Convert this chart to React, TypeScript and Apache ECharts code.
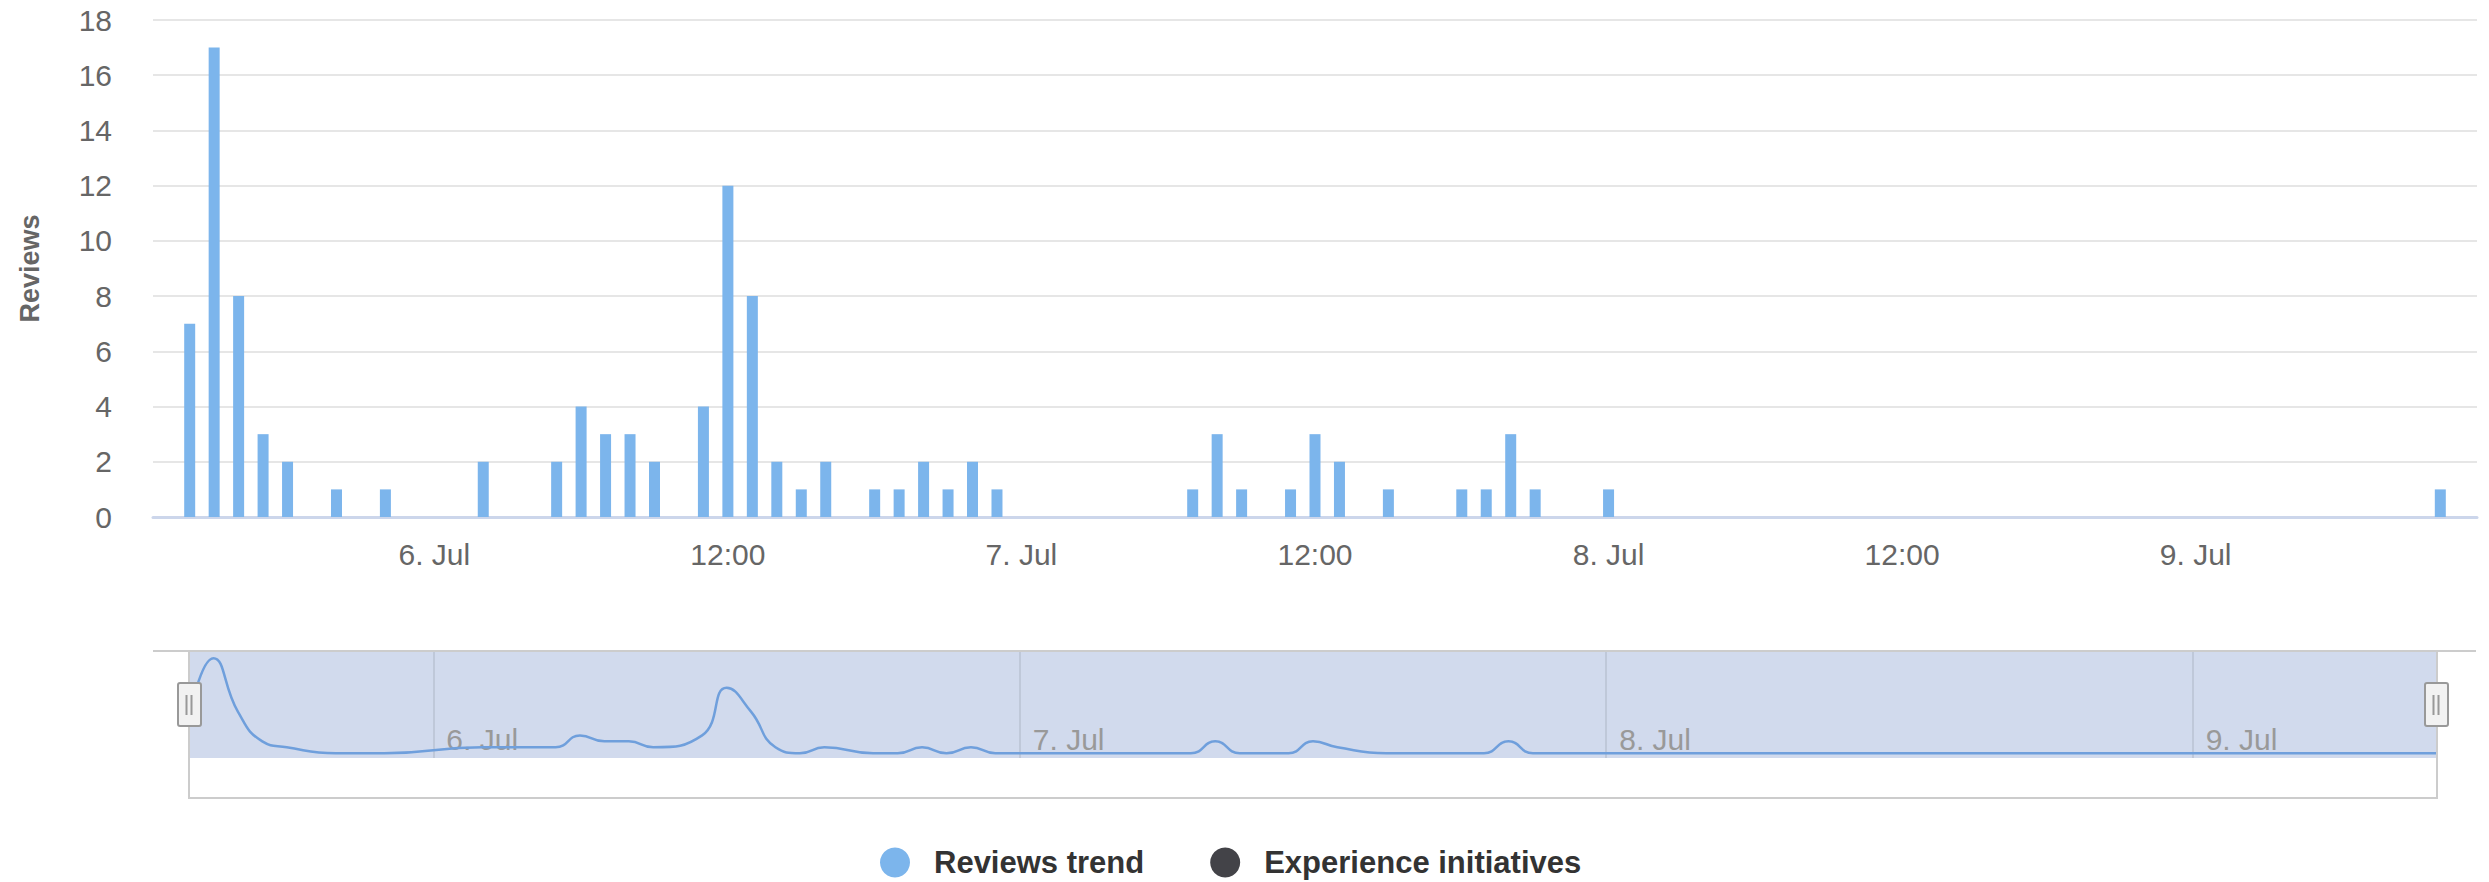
import React, { useEffect, useRef } from "react";
import * as echarts from "echarts";

// Hourly slots (July) that received reviews, and their counts
const reviewSlots = [
  "5. Jul 14:00", "5. Jul 15:00", "5. Jul 16:00", "5. Jul 17:00", "5. Jul 18:00", "5. Jul 20:00", "5. Jul 22:00",
  "6. Jul 02:00", "6. Jul 05:00", "6. Jul 06:00", "6. Jul 07:00", "6. Jul 08:00", "6. Jul 09:00", "6. Jul 11:00",
  "6. Jul 12:00", "6. Jul 13:00", "6. Jul 14:00", "6. Jul 15:00", "6. Jul 16:00", "6. Jul 18:00", "6. Jul 19:00",
  "6. Jul 20:00", "6. Jul 21:00", "6. Jul 22:00", "6. Jul 23:00",
  "7. Jul 07:00", "7. Jul 08:00", "7. Jul 09:00", "7. Jul 11:00", "7. Jul 12:00", "7. Jul 13:00", "7. Jul 15:00",
  "7. Jul 18:00", "7. Jul 19:00", "7. Jul 20:00", "7. Jul 21:00",
  "8. Jul 00:00",
  "9. Jul 10:00",
];
const reviewCounts = [
  7, 17, 8, 3, 2, 1, 1,
  2, 2, 4, 3, 3, 2, 4,
  12, 8, 2, 1, 2, 1, 1,
  2, 1, 2, 1,
  1, 3, 1, 1, 3, 2, 1,
  1, 1, 3, 1,
  1,
  1,
];

// Axis ranges (day of July, hour)
const mainRange = [5, 13, 9, 11];
const navRange = [5, 14, 9, 10];
const yTicks = [0, 18, 2];

const legendNames = ["Reviews trend", "Experience initiatives"];
const FONT = '"Liberation Sans", Arial, sans-serif';

function slotName(day: number, hour: number) {
  return `${day}. Jul ${String(hour).padStart(2, "0")}:00`;
}
function hourSlots(r: number[]) {
  const out: string[] = [];
  let d = r[0];
  let h = r[1];
  while (d < r[2] || (d === r[2] && h <= r[3])) {
    out.push(slotName(d, h));
    h++;
    if (h === 24) {
      h = 0;
      d++;
    }
  }
  return out;
}
const isHalfDay = (_i: number, v: string) => v.endsWith(" 00:00") || v.endsWith(" 12:00");
const isDay = (_i: number, v: string) => v.endsWith(" 00:00");
const fmt = (v: string) => (v.endsWith(" 00:00") ? v.slice(0, v.indexOf(" Jul") + 4) : v.slice(v.lastIndexOf(" ") + 1));

export default function App() {
  const ref = useRef<HTMLDivElement>(null);
  useEffect(() => {
    if (!ref.current) return;
    const chart = echarts.init(ref.current, undefined, { renderer: "svg" });
    const pairs = reviewSlots.map((s, i) => [s, reviewCounts[i]]);
    const handle = (cx: number) => [
      {
        type: "rect",
        z: 20,
        shape: { x: cx - 11.5, y: 683, width: 23, height: 43, r: 2 },
        style: { fill: "#f2f2f2", stroke: "#999999", lineWidth: 2 },
      },
      {
        type: "line",
        z: 21,
        shape: { x1: cx - 3, y1: 695, x2: cx - 3, y2: 715 },
        style: { stroke: "#999999", lineWidth: 2 },
      },
      {
        type: "line",
        z: 21,
        shape: { x1: cx + 2, y1: 695, x2: cx + 2, y2: 715 },
        style: { stroke: "#999999", lineWidth: 2 },
      },
    ];
    chart.setOption({
      animation: false,
      textStyle: { fontFamily: FONT },
      legend: {
        data: legendNames.map((n) => ({ name: n, icon: "circle" })),
        left: 875,
        top: 842,
        itemWidth: 30,
        itemHeight: 30,
        itemGap: 66,
        selectedMode: false,
        textStyle: { color: "#333333", fontSize: 31, fontWeight: "bold", fontFamily: FONT, padding: [0, 0, 0, 19] },
      },
      grid: [
        { left: 153, right: 12, top: 20, height: 497 },
        { left: 189, right: 52, top: 651, height: 107, show: true, backgroundColor: "#d1daed", borderWidth: 0 },
      ],
      xAxis: [
        {
          type: "category",
          gridIndex: 0,
          data: hourSlots(mainRange),
          boundaryGap: true,
          axisLine: { lineStyle: { color: "#ccd6eb", width: 3 } },
          axisTick: { alignWithLabel: true, interval: isHalfDay, length: 25, lineStyle: { color: "#ccd6eb", width: 2 } },
          axisLabel: { interval: isHalfDay, formatter: fmt, color: "#666666", fontSize: 30, margin: 22 },
          splitLine: { show: false },
        },
        {
          type: "category",
          gridIndex: 1,
          data: hourSlots(navRange),
          boundaryGap: false,
          axisLine: { show: false },
          axisTick: { show: false },
          axisLabel: {
            inside: true,
            interval: isDay,
            formatter: fmt,
            color: "#999999",
            fontSize: 30,
            margin: 4,
            align: "left",
            padding: [0, 0, 0, 13],
          },
          splitLine: { show: true, interval: isDay, lineStyle: { color: "#b9c2d2", width: 1.5 } },
        },
      ],
      yAxis: [
        {
          type: "value",
          gridIndex: 0,
          min: yTicks[0],
          max: yTicks[1],
          interval: yTicks[2],
          name: "Reviews",
          nameLocation: "middle",
          nameRotate: 90,
          nameGap: 110,
          nameTextStyle: { color: "#666666", fontSize: 27, fontWeight: "bold" },
          axisLine: { show: false },
          axisTick: { show: false },
          axisLabel: { color: "#666666", fontSize: 30, margin: 41 },
          splitLine: { lineStyle: { color: "#e6e6e6", width: 2 } },
        },
        { type: "value", gridIndex: 1, min: 0.2, max: 18.2, show: false },
      ],
      series: [
        {
          name: legendNames[0],
          type: "bar",
          xAxisIndex: 0,
          yAxisIndex: 0,
          data: pairs,
          barWidth: 11,
          color: "#7cb5ec",
          itemStyle: { color: "#7cb5ec" },
        },
        {
          name: legendNames[1],
          type: "line",
          xAxisIndex: 0,
          yAxisIndex: 0,
          data: [],
          color: "#434348",
          itemStyle: { color: "#434348" },
        },
        {
          name: "navigator",
          type: "line",
          xAxisIndex: 1,
          yAxisIndex: 1,
          data: pairs,
          smooth: 0.5,
          symbol: "none",
          silent: true,
          lineStyle: { color: "#6f9fdc", width: 2.5 },
        },
      ],
      graphic: [
        { type: "line", z: 5, shape: { x1: 153, y1: 651, x2: 2476, y2: 651 }, style: { stroke: "#cccccc", lineWidth: 2 } },
        {
          type: "rect",
          z: 5,
          shape: { x: 189, y: 651, width: 2248, height: 147 },
          style: { fill: "none", stroke: "#cccccc", lineWidth: 2 },
        },
        ...handle(189.5),
        ...handle(2436.5),
      ],
    });
    return () => chart.dispose();
  }, []);
  return <div ref={ref} style={{ position: "absolute", left: 0, top: 0, width: 2489, height: 882 }} />;
}
